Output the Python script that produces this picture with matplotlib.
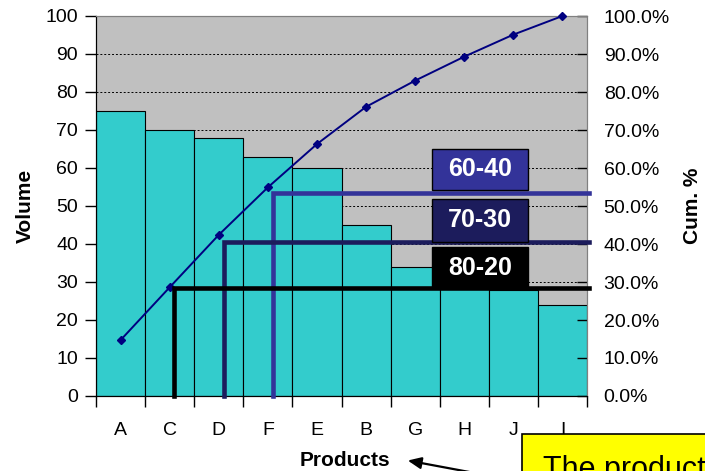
import matplotlib.pyplot as plt
from matplotlib.patches import Rectangle
from matplotlib.ticker import FuncFormatter, FixedLocator
import numpy as np

plt.rcParams['font.family'] = ['Liberation Sans', 'DejaVu Sans']

products = ['A', 'C', 'D', 'F', 'E', 'B', 'G', 'H', 'J', 'I']
volume = [75, 70, 68, 63, 60, 45, 34, 29, 28, 24]
cum_pct = [14.7, 28.6, 42.4, 54.9, 66.3, 76.1, 83.0, 89.3, 95.1, 100.0]

# cut-off lines (x in product units, level in cum. %)
cut_labels = ['60-40', '70-30', '80-20']
cut_x = [3.6, 2.61, 1.59]
cut_y = [53.5, 40.6, 28.4]
cut_colors = ['#333399', '#1c1c5c', '#000000']
box_top = [65.1, 51.9, 39.1]
box_bottom = [54.2, 40.6, 28.4]

W, H = 705, 471
fig = plt.figure(figsize=(W / 100, H / 100), dpi=100)
ax = fig.add_axes([96 / W, 1 - 396 / H, 491 / W, 380 / H])
ax.set_facecolor('#c0c0c0')

x = np.arange(len(products)) + 0.5
ax.bar(x, volume, width=1, color='#33cccc', edgecolor='black', lw=0.8, zorder=2)
ax.set_xlim(0, 10)
ax.set_ylim(0, 100)
ax.set_yticks(range(0, 101, 10))
ax.yaxis.grid(True, linestyle=(0, (2, 2)), color='black', lw=0.7)
ax.set_axisbelow(True)

# ticks on category boundaries, labels at centres
ax.xaxis.set_major_locator(FixedLocator(range(11)))
ax.xaxis.set_minor_locator(FixedLocator(x))
ax.set_xticklabels([])
ax.set_xticklabels(products, minor=True)
ax.tick_params(axis='x', which='major', direction='out', length=8, width=1)
ax.tick_params(axis='x', which='minor', length=0, pad=19, labelsize=14)
ax.tick_params(axis='y', direction='out', length=8, width=1, pad=5, labelsize=14)

ax2 = ax.twinx()
ax2.set_ylim(0, 100)
ax2.set_yticks(range(0, 101, 10))
ax2.yaxis.set_major_formatter(FuncFormatter(lambda v, p: f'{v:.1f}%'))
ax2.tick_params(axis='y', direction='in', length=7, width=1, pad=12, labelsize=14)
ax2.plot(x, cum_pct, color='#000080', marker='D', ms=4, lw=1.4, zorder=3, clip_on=False)

for sp in ['top', 'right']:
    ax2.spines[sp].set_color('#808080')
    ax.spines[sp].set_color('#808080')
for sp in ['left', 'bottom']:
    ax.spines[sp].set_color('black')

for lab, cx, cy, col, bt, bb in zip(cut_labels, cut_x, cut_y, cut_colors, box_top, box_bottom):
    ax2.plot([cx, cx, 10.05], [0, cy, cy], color=col, lw=3.3, solid_joinstyle='miter',
             clip_on=False, zorder=4)
    ax2.add_patch(Rectangle((6.85, bb), 1.95, bt - bb, facecolor=col, edgecolor='black',
                            lw=1, zorder=5))
    ax2.text(6.85 + 1.95 / 2, (bt + bb) / 2, lab, color='white', fontsize=18,
             fontweight='bold', ha='center', va='center', zorder=6)

fig.text(25 / W, 1 - 206 / H, 'Volume', rotation=90, ha='center', va='center',
         fontsize=15, fontweight='bold')
fig.text(692 / W, 1 - 206 / H, 'Cum. %', rotation=90, ha='center', va='center',
         fontsize=15, fontweight='bold')
fig.text(345 / W, 1 - 461 / H, 'Products', ha='center', va='center',
         fontsize=15, fontweight='bold')

# callout box at the bottom right (cut off by the figure edge)
fig.patches.append(Rectangle((522 / W, -0.05), 0.3, 0.05 + (471 - 434) / H,
                             transform=fig.transFigure, facecolor='#ffff00',
                             edgecolor='black', lw=1.2, zorder=5))
fig.text(543 / W, 1 - 478 / H, 'The product', fontsize=22, ha='left', va='baseline',
         zorder=6)
ax.annotate('', xy=(405, H - 460), xycoords='figure pixels',
            xytext=(480, -3), textcoords='figure pixels',
            arrowprops=dict(arrowstyle='-|>,head_length=0.8,head_width=0.35',
                            color='black', lw=1.6))

fig.savefig('out.png', dpi=100)
